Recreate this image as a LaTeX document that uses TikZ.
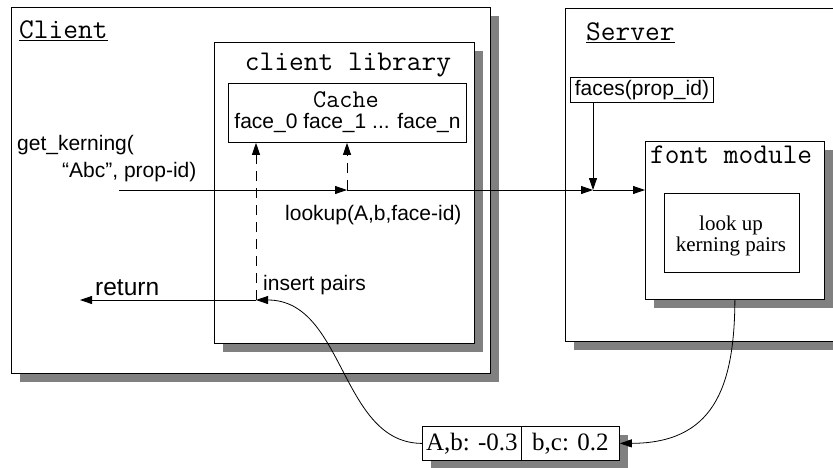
\documentclass[tikz,border=0pt]{standalone}
\usepackage{fontspec}
\setmainfont{Liberation Sans}
\newfontfamily\seriff{Liberation Serif}
\usetikzlibrary{arrows.meta,shadows}
\definecolor{shadowgray}{RGB}{128,128,128}
\tikzset{
  box/.style={draw=black, line width=0.8pt, fill=white, rectangle, inner sep=0pt, anchor=north west},
  shadowed/.style={drop shadow={shadow xshift=9pt, shadow yshift=-9pt, fill=shadowgray, opacity=1}},
  monolabel/.style={font=\ttfamily\fontsize{28.6}{30}\selectfont, inner sep=0pt},
  sanslabel/.style={font=\fontsize{21}{24}\selectfont, inner sep=0pt},
  seriflabel/.style={font=\seriff\fontsize{21}{21}\selectfont, inner sep=0pt},
  arr/.style={line width=0.8pt, -{Triangle[length=12pt,width=8pt]}},
  dashline/.style={dash pattern=on 10pt off 7pt}
}
\begin{document}
\begin{tikzpicture}[x=1pt, y=-1pt]
  \clip (0,0) rectangle (833,467);
  \fill[white] (0,0) rectangle (833,467);

  % client side
  \node[box, shadowed, minimum width=479pt, minimum height=366pt] (client) at (11,7) {};
  \node[monolabel, anchor=base west] (clientlbl) at (19,38) {\underline{Client}};
  \node[box, shadowed, minimum width=260pt, minimum height=301pt] (lib) at (214,42) {};
  \node[monolabel, anchor=base] (liblbl) at (348,70) {client library};
  \node[box, minimum width=238pt, minimum height=59pt] (cache) at (228,83) {};
  \node[monolabel, font=\ttfamily\fontsize{25.5}{27}\selectfont, anchor=base] (cachelbl) at (346,107) {Cache};
  \node[sanslabel, anchor=base] (faceslist) at (347.5,128) {face\_0 face\_1 ... face\_n};

  % server side
  \node[box, shadowed, minimum width=300pt, minimum height=333pt] (server) at (565,8) {};
  \node[monolabel, anchor=base west] (serverlbl) at (586,40) {\underline{Server}};
  \node[box, sanslabel, minimum width=143pt, minimum height=25pt] (faces) at (570,77) {faces(prop\_id)};
  \node[box, shadowed, minimum width=179pt, minimum height=158pt] (fontmod) at (645,141) {};
  \node[monolabel, anchor=base west] (fontmodlbl) at (650,163) {font module};
  \node[box, minimum width=135pt, minimum height=79pt] (lookbox) at (664,193) {};
  \node[seriflabel, anchor=base] (look1) at (731,230) {look up};
  \node[seriflabel, anchor=base] (look2) at (731,251) {kerning pairs};

  % kerning table
  \node[box, shadowed, minimum width=99pt, minimum height=34pt, font=\seriff\fontsize{25}{28}\selectfont] (ab) at (422,426) {A,b: -0.3};
  \node[box, shadowed, minimum width=98pt, minimum height=34pt, font=\seriff\fontsize{25}{28}\selectfont] (bc) at (521,426) {b,c: 0.2};

  % call labels
  \node[sanslabel, anchor=base west] (call1) at (17,150) {get\_kerning(};
  \node[sanslabel, anchor=base west] (call2) at (62,177) {“Abc”, prop-id)};
  \node[sanslabel, anchor=base west] (lookuplbl) at (285,220) {lookup(A,b,face-id)};
  \node[sanslabel, anchor=base west] (insertlbl) at (263,290) {insert pairs};
  \node[sanslabel, font=\fontsize{24.5}{27}\selectfont, anchor=base west] (retlbl) at (95,295) {return};

  % connector points
  \coordinate (callin) at (119,190);
  \coordinate (j1) at (347,190);
  \coordinate (j2) at (593,190);
  \coordinate (ins) at (256,300);
  \coordinate (ret) at (80,300);

  % request path
  \draw[arr] (callin) -- (j1);
  \draw[arr] (j1) -- (j2);
  \draw[arr] (j2) -- (j2 -| fontmod.west);
  \draw[arr] (faces.south -| j2) -- (j2);
  \draw[arr, dashline] (j1) -- (j1 |- cache.south);

  % reply path
  \draw[arr, dashline] (ins) -- (ins |- cache.south);
  \draw[arr] (ins) -- (ret);
  \draw[arr] (fontmod.south) .. controls (734.5,390) and (712,443) .. (bc.east);
  \draw[arr] (ab.west) .. controls (340,443) and (345,300) .. (ins);
\end{tikzpicture}
\end{document}
